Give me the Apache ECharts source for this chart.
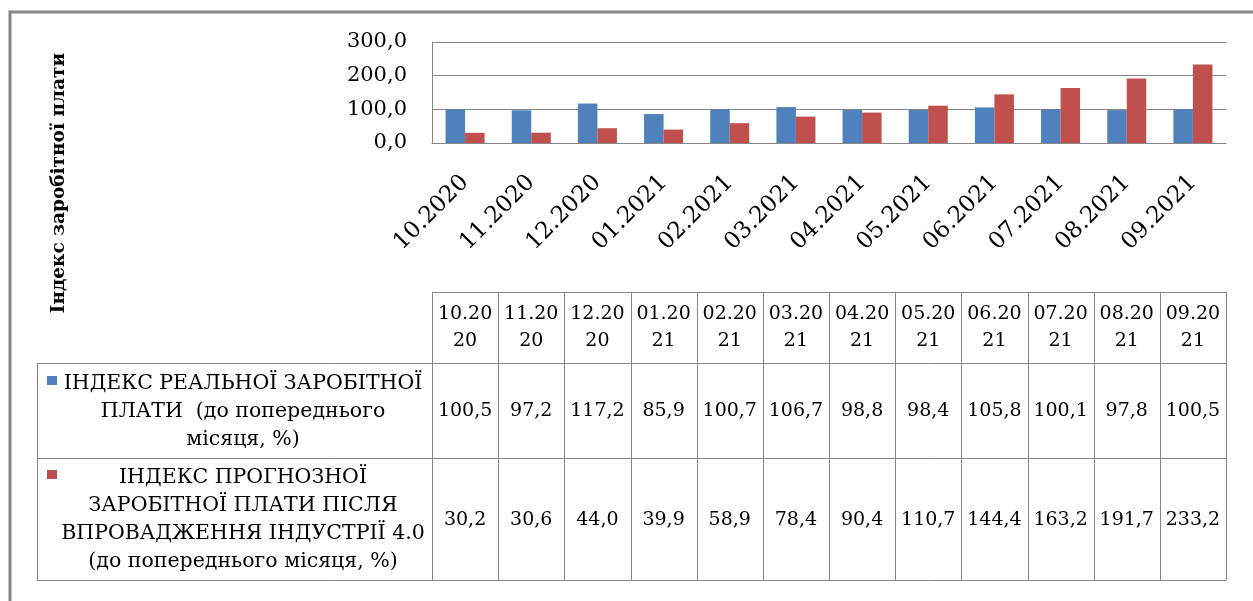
<!DOCTYPE html>
<html>
<head>
<meta charset="utf-8">
<script src="https://cdn.jsdelivr.net/npm/echarts@6/dist/echarts.min.js"></script>
<style>
  html, body { margin: 0; padding: 0; background: #fff; }
  #chart { width: 1253px; height: 601px; }
</style>
</head>
<body>
<div id="chart"></div>
<script>
var months = ['10.2020', '11.2020', '12.2020', '01.2021', '02.2021', '03.2021',
              '04.2021', '05.2021', '06.2021', '07.2021', '08.2021', '09.2021'];
var realIndex = [100.5, 97.2, 117.2, 85.9, 100.7, 106.7, 98.8, 98.4, 105.8, 100.1, 97.8, 100.5];
var forecastIndex = [30.2, 30.6, 44.0, 39.9, 58.9, 78.4, 90.4, 110.7, 144.4, 163.2, 191.7, 233.2];
var seriesNames = [
  'ІНДЕКС РЕАЛЬНОЇ ЗАРОБІТНОЇ\nПЛАТИ  (до попереднього\nмісяця, %)',
  'ІНДЕКС ПРОГНОЗНОЇ\nЗАРОБІТНОЇ ПЛАТИ ПІСЛЯ\nВПРОВАДЖЕННЯ ІНДУСТРІЇ 4.0\n(до попереднього місяця, %)'
];
var seriesColors = ['#4F81BD', '#C0504D'];
var axisTitle = 'Індекс заробітної плати';

var SERIF = '"DejaVu Serif", "Liberation Serif", serif';
var GRIDC = '#868686';

function fmt(v) {
  return v.toFixed(1).replace('.', ',');
}

var chart = echarts.init(document.getElementById('chart'));

chart.setOption({
  backgroundColor: '#fff',
  animation: false,
  grid: { left: 432, right: 27, top: 42, bottom: 458 },
  xAxis: {
    type: 'category',
    data: months,
    axisLine: { show: true, lineStyle: { color: GRIDC, width: 1 } },
    axisTick: { show: false },
    axisLabel: {
      interval: 0,
      rotate: 45,
      margin: 36,
      color: '#000',
      fontFamily: SERIF,
      fontSize: 23
    }
  },
  yAxis: {
    type: 'value',
    min: 0,
    max: 300,
    interval: 100,
    axisLine: { show: true, lineStyle: { color: GRIDC, width: 1 } },
    axisTick: { show: false },
    splitLine: { show: true, lineStyle: { color: GRIDC, width: 1 } },
    axisLabel: {
      margin: 25,
      color: '#000',
      fontFamily: SERIF,
      fontSize: 21,
      formatter: fmt
    }
  },
  series: [
    {
      name: seriesNames[0],
      type: 'bar',
      data: realIndex,
      barGap: '0%',
      barCategoryGap: '41%',
      itemStyle: { color: seriesColors[0] }
    },
    {
      name: seriesNames[1],
      type: 'bar',
      data: forecastIndex,
      itemStyle: { color: seriesColors[1] }
    }
  ]
});

// data table under the chart, columns follow the category axis
function buildTable() {
  var xs = months.map(function (m) {
    return chart.convertToPixel({ xAxisIndex: 0 }, m);
  });
  var half = (xs[1] - xs[0]) / 2;
  var left = Math.round(xs[0] - half);
  var right = Math.round(xs[xs.length - 1] + half);

  var top = 292, headEnd = 363, row1End = 458, row2End = 580, labelLeft = 37;
  var rowBounds = [[headEnd, row1End], [row1End, row2End]];
  var rows = [realIndex, forecastIndex];
  var els = [];

  function hline(y, x1, x2) {
    els.push({ type: 'line', silent: true,
      shape: { x1: x1, y1: y + 0.5, x2: x2, y2: y + 0.5 },
      style: { stroke: GRIDC, lineWidth: 1 } });
  }
  function vline(x, y1, y2) {
    els.push({ type: 'line', silent: true,
      shape: { x1: x + 0.5, y1: y1, x2: x + 0.5, y2: y2 },
      style: { stroke: GRIDC, lineWidth: 1 } });
  }
  function text(x, y, str, extra) {
    var st = {
      text: str, x: 0, y: 0,
      fill: '#000',
      font: (extra && extra.font) || ('19px ' + SERIF),
      align: 'center', textAlign: 'center',
      verticalAlign: 'middle', textVerticalAlign: 'middle',
      lineHeight: (extra && extra.lineHeight) || 27
    };
    els.push({ type: 'text', silent: true, x: x, y: y,
      rotation: (extra && extra.rotation) || 0, style: st });
  }

  hline(top, left, right);
  hline(headEnd, labelLeft, right);
  hline(row1End, labelLeft, right);
  hline(row2End, labelLeft, right);
  vline(labelLeft, headEnd, row2End);
  vline(left, top, row2End);
  for (var i = 0; i < xs.length; i++) {
    vline(Math.round(xs[i] + half), top, row2End);
    var m = months[i];
    text(xs[i], (top + headEnd) / 2, m.slice(0, 5) + '\n' + m.slice(5));
    for (var r = 0; r < rows.length; r++) {
      text(xs[i], (rowBounds[r][0] + rowBounds[r][1]) / 2 + 1, fmt(rows[r][i]));
    }
  }

  // row headers with legend keys
  var keyY = [376, 470];
  for (var r = 0; r < rows.length; r++) {
    els.push({ type: 'rect', silent: true,
      shape: { x: 47, y: keyY[r], width: 10, height: 9 },
      style: { fill: seriesColors[r] } });
    text(243, (rowBounds[r][0] + rowBounds[r][1]) / 2 + 1, seriesNames[r],
      { font: '20.5px ' + SERIF, lineHeight: 28 });
  }

  // axis title
  text(59, 183, axisTitle, { font: 'bold 18.5px ' + SERIF, rotation: Math.PI / 2 });

  // outer frame (only top and left edges are visible)
  els.push({ type: 'rect', silent: true,
    shape: { x: 10, y: 12, width: 1400, height: 800 },
    style: { fill: 'none', stroke: GRIDC, lineWidth: 3 } });

  chart.setOption({ graphic: { elements: els } });
}

buildTable();
</script>
</body>
</html>
